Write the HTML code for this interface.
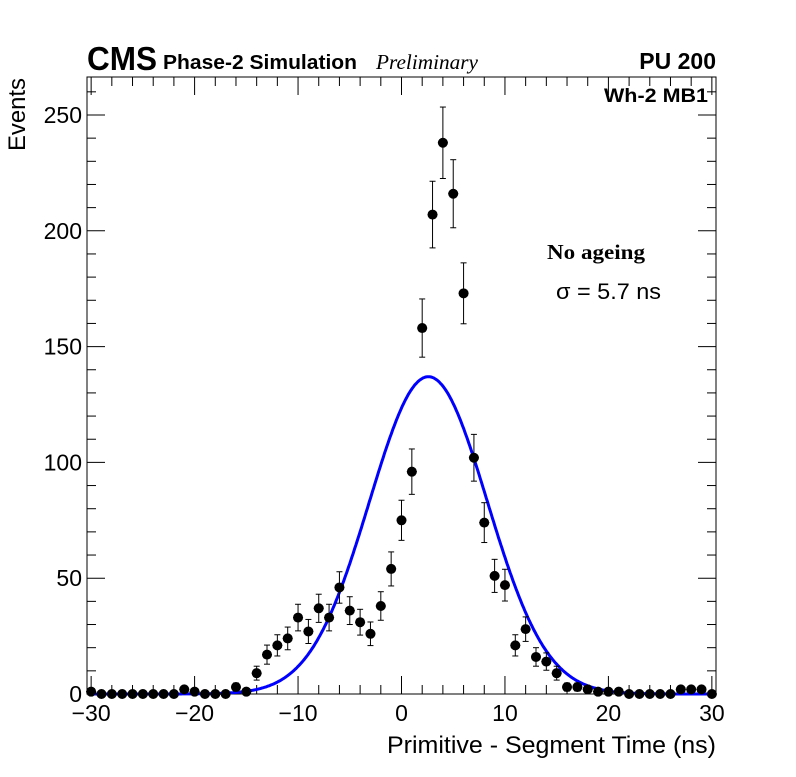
<!DOCTYPE html>
<html><head><meta charset="utf-8"><style>
body{margin:0;background:#fff;}
svg text{font-family:"Liberation Sans",sans-serif;}
</style></head><body>
<svg id="chart" width="796" height="772" xmlns="http://www.w3.org/2000/svg">
<rect width="796" height="772" fill="#fff"/>
<g id="axes"></g>
<g id="fit"></g>
<g id="pts"></g>
<text x="87" y="70" font-size="33" font-weight="bold" textLength="70" lengthAdjust="spacingAndGlyphs">CMS</text>
<text x="163" y="69" font-size="20" font-weight="bold" textLength="194" lengthAdjust="spacingAndGlyphs">Phase-2 Simulation</text>
<text x="376" y="69" font-size="21" font-style="italic" textLength="102" lengthAdjust="spacingAndGlyphs" style="font-family:'Liberation Serif',serif">Preliminary</text>
<text x="716" y="69" font-size="23" font-weight="bold" text-anchor="end">PU 200</text>
<text x="604" y="102" font-size="19" font-weight="bold" textLength="104" lengthAdjust="spacingAndGlyphs">Wh-2 MB1</text>
<text x="547" y="259" font-size="21" font-weight="bold" textLength="98" lengthAdjust="spacingAndGlyphs" style="font-family:'Liberation Serif',serif">No ageing</text>
<text x="556" y="299" font-size="22" textLength="105" lengthAdjust="spacingAndGlyphs">σ = 5.7 ns</text>
<text x="387" y="753" font-size="24" textLength="329" lengthAdjust="spacingAndGlyphs">Primitive - Segment Time (ns)</text>
<text transform="translate(25,151) rotate(-90)" font-size="24" textLength="73" lengthAdjust="spacingAndGlyphs">Events</text>
</svg>
<script>
const xVals=[-30,-29,-28,-27,-26,-25,-24,-23,-22,-21,-20,-19,-18,-17,-16,-15,-14,-13,-12,-11,-10,-9,-8,-7,-6,-5,-4,-3,-2,-1,0,1,2,3,4,5,6,7,8,9,10,11,12,13,14,15,16,17,18,19,20,21,22,23,24,25,26,27,28,29,30];
const counts=[1,0,0,0,0,0,0,0,0,2,1,0,0,0,3,1,9,17,21,24,33,27,37,33,46,36,31,26,38,54,75,96,158,207,238,216,173,102,74,51,47,21,28,16,14,9,3,3,2,1,1,1,0,0,0,0,0,2,2,2,0];
const fitMean=2.6, fitSigma=5.7, fitAmp=137;
const xTicks=[-30,-20,-10,0,10,20,30];
const yTicks=[0,50,100,150,200,250];
const X0=87,X1=716,Y0=694,Y1=77,xmin=-30.4,xmax=30.4,ymin=0,ymax=266.4;
const sx=v=>X0+(v-xmin)/(xmax-xmin)*(X1-X0);
const sy=v=>Y0-(v-ymin)/(ymax-ymin)*(Y0-Y1);
const NS="http://www.w3.org/2000/svg";
function mk(p,t,a){const e=document.createElementNS(NS,t);for(const k in a)e.setAttribute(k,a[k]);p.appendChild(e);return e;}
const ax=document.getElementById('axes');
const fr=mk(ax,'rect',{x:X0,y:Y1,width:X1-X0,height:Y0-Y1,fill:'none',stroke:'#000','stroke-width':1});


for(let v=-30;v<=30;v+=2){const big=v%10===0;const x=sx(v);
mk(ax,'line',{x1:x,x2:x,y1:Y0,y2:Y0-(big?18:9),stroke:'#000'});
mk(ax,'line',{x1:x,x2:x,y1:Y1,y2:Y1+(big?18:9),stroke:'#000'});}
xTicks.forEach(v=>{const t=mk(ax,'text',{x:sx(v),y:721,'font-size':23,'text-anchor':'middle'});t.textContent=(v<0?'\u2212'+(-v):v);

});
for(let v=0;v<=260;v+=10){const big=v%50===0;const y=sy(v);
mk(ax,'line',{x1:X0,x2:X0+(big?18:9),y1:y,y2:y,stroke:'#000'});
mk(ax,'line',{x1:X1,x2:X1-(big?18:9),y1:y,y2:y,stroke:'#000'});}
yTicks.forEach(v=>{const t=mk(ax,'text',{x:82,y:sy(v)+8,'font-size':23,'text-anchor':'end'});t.textContent=v;

});
const fit=document.getElementById('fit');let d='';
for(let x=-30;x<=30;x+=0.1){const y=fitAmp*Math.exp(-0.5*((x-fitMean)/fitSigma)**2);d+=(d?'L':'M')+sx(x).toFixed(1)+','+sy(y).toFixed(1);}
const pth=mk(fit,'path',{d:d,fill:'none',stroke:'#0000ff','stroke-width':3});


const pts=document.getElementById('pts');
xVals.forEach((xv,i)=>{const n=counts[i];const x=sx(xv),y=sy(n);const g=mk(pts,'g',{});


if(n>0){const e=Math.sqrt(n);mk(g,'line',{x1:x,x2:x,y1:sy(n+e),y2:sy(Math.max(0,n-e)),stroke:'#000'});
mk(g,'line',{x1:x-3,x2:x+3,y1:sy(n+e),y2:sy(n+e),stroke:'#000'});
mk(g,'line',{x1:x-3,x2:x+3,y1:sy(Math.max(0,n-e)),y2:sy(Math.max(0,n-e)),stroke:'#000'});}
mk(g,'line',{x1:x-5,x2:x+5,y1:y,y2:y,stroke:'#000'});
mk(g,'circle',{cx:x,cy:y,r:5,fill:'#000'});});
</script>
</body></html>
